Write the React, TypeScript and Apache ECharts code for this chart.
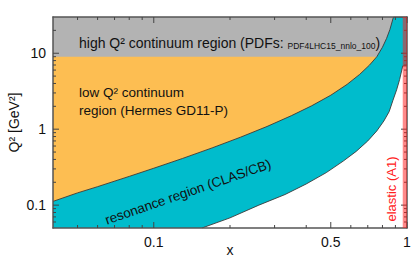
import { useEffect, useRef } from 'react';
import * as echarts from 'echarts';

// Axis ranges (x and Q^2 in their own units; both axes are logarithmic)
const X_MIN = 0.04;
const X_MAX = 1;
const Q2_MIN = 0.05;
const Q2_MAX = 30;

// Q^2 cut between low and high Q^2 continuum
const q2Cut = 9;

// Upper boundary of the resonance region
const upperX = [0.04, 0.05, 0.06, 0.08, 0.1, 0.13, 0.17, 0.22, 0.28, 0.35, 0.42, 0.5, 0.58, 0.65, 0.71, 0.76, 0.8, 0.83, 0.856, 0.884, 1.0];
const upperQ2 = [0.112, 0.145, 0.175, 0.239, 0.306, 0.412, 0.567, 0.784, 1.085, 1.51, 2.03, 2.8, 3.89, 5.26, 6.95, 9.0, 12, 15.6, 20.5, 30, 30];

// Lower boundary of the resonance region
const lowerX = [0.155, 0.2, 0.26, 0.33, 0.4, 0.48, 0.56, 0.63, 0.7, 0.76, 0.81, 0.85, 0.88, 0.91, 0.935, 0.962, 1.0];
const lowerQ2 = [0.05, 0.068, 0.1, 0.138, 0.19, 0.268, 0.38, 0.51, 0.7, 0.95, 1.28, 1.7, 2.4, 3.3, 4.5, 6.8, 6.8];

// Elastic band in x
const elasticX = [0.962, 1.0];

// Ticks
const xMajorTicks = [0.1, 0.5, 1];
const xTickLabels = ['0.1', '0.5', '1'];
const xMinorTicks = [0.05, 0.06, 0.07, 0.08, 0.09, 0.2, 0.3, 0.4, 0.6, 0.7, 0.8, 0.9];
const yMajorTicks = [0.1, 1, 10];
const yTickLabels = ['0.1', '1', '10'];
const yMinorTicks = [0.06, 0.07, 0.08, 0.09, 0.2, 0.3, 0.4, 0.5, 0.6, 0.7, 0.8, 0.9, 2, 3, 4, 5, 6, 7, 8, 9, 20];

const FONT = '"Liberation Sans", Arial, Helvetica, sans-serif';
const AXIS_COLOR = '#555555';
const TICK_COLOR = '#444444';
const MAJOR_LEN = 6;
const MINOR_LEN = 3;

// logarithmic mapping used for both axes
const L = (v: number) => Math.log10(v);

function labelFor(ticks: number[], labels: string[], v: number): string {
  const i = ticks.findIndex((t) => Math.abs(L(t) - v) < 1e-6);
  return i >= 0 ? labels[i] : '';
}

function makeXAxis(position: 'bottom' | 'top', withLabels: boolean) {
  return {
    type: 'value',
    min: L(X_MIN),
    max: L(X_MAX),
    position,
    offset: 0,
    z: 3,
    name: withLabels ? 'x' : '',
    nameLocation: 'middle',
    nameGap: 15,
    nameMoveOverlap: false,
    nameTextStyle: { fontFamily: FONT, fontSize: 14, color: '#111' },
    axisLine: { show: true, onZero: false, lineStyle: { color: AXIS_COLOR, width: 1.5 } },
    axisTick: { show: false },
    minorTick: { show: false },
    axisLabel: {
      show: withLabels,
      customValues: xMajorTicks.map(L),
      margin: 7,
      fontFamily: FONT,
      fontSize: 14,
      color: '#111',
      formatter: (v: number) => labelFor(xMajorTicks, xTickLabels, v),
    },
    splitLine: { show: false },
  };
}

function makeYAxis(position: 'left' | 'right', withLabels: boolean) {
  return {
    type: 'value',
    min: L(Q2_MIN),
    max: L(Q2_MAX),
    position,
    offset: 0,
    z: 3,
    name: withLabels ? 'Q² [GeV²]' : '',
    nameLocation: 'middle',
    nameGap: 32,
    nameMoveOverlap: false,
    nameTextStyle: { fontFamily: FONT, fontSize: 14, color: '#111' },
    axisLine: { show: true, onZero: false, lineStyle: { color: AXIS_COLOR, width: 1.5 } },
    axisTick: { show: false },
    minorTick: { show: false },
    axisLabel: {
      show: withLabels,
      customValues: yMajorTicks.map(L),
      margin: 7,
      fontFamily: FONT,
      fontSize: 14,
      color: '#111',
      formatter: (v: number) => labelFor(yMajorTicks, yTickLabels, v),
    },
    splitLine: { show: false },
  };
}

function areaSeries(name: string, data: number[][], color: string, z: number, line: boolean) {
  return {
    name,
    type: 'line',
    xAxisIndex: 0,
    yAxisIndex: 0,
    data: data.map(([x, q]) => [L(x), L(q)]),
    z,
    symbol: 'none',
    silent: true,
    smooth: false,
    lineStyle: line ? { color: '#3a3a3a', width: 0.9 } : { width: 0 },
    areaStyle: { color, opacity: 1, origin: 'start' },
  };
}

// Inside tick marks on all four sides, placed through the axes' scales
function tickSeries(kind: 'x' | 'y') {
  const major = kind === 'x' ? xMajorTicks : yMajorTicks;
  const minor = kind === 'x' ? xMinorTicks : yMinorTicks;
  const data = [
    ...major.map((t) => [L(t), MAJOR_LEN]),
    ...minor.map((t) => [L(t), MINOR_LEN]),
  ];
  return {
    type: 'custom',
    xAxisIndex: 0,
    yAxisIndex: 0,
    z: 4,
    silent: true,
    clip: false,
    encode: kind === 'x' ? { x: 0 } : { y: 0 },
    data,
    renderItem: (_params: any, api: any) => {
      const v = api.value(0);
      const len = api.value(1);
      const style = { stroke: TICK_COLOR, lineWidth: 1 };
      if (kind === 'x') {
        const b = api.coord([v, L(Q2_MIN)]);
        const t = api.coord([v, L(Q2_MAX)]);
        return {
          type: 'group',
          children: [
            { type: 'line', shape: { x1: b[0], y1: b[1], x2: b[0], y2: b[1] - len }, style },
            { type: 'line', shape: { x1: t[0], y1: t[1], x2: t[0], y2: t[1] + len }, style },
          ],
        };
      }
      const l = api.coord([L(X_MIN), v]);
      const r = api.coord([L(X_MAX), v]);
      return {
        type: 'group',
        children: [
          { type: 'line', shape: { x1: l[0], y1: l[1], x2: l[0] + len, y2: l[1] }, style },
          { type: 'line', shape: { x1: r[0], y1: r[1], x2: r[0] - len, y2: r[1] }, style },
        ],
      };
    },
  };
}

export default function App() {
  const ref = useRef<HTMLDivElement>(null);

  useEffect(() => {
    if (!ref.current) return;
    const chart = echarts.init(ref.current, undefined, { renderer: 'svg' });

    const grayData = [[X_MIN, Q2_MAX], [X_MAX, Q2_MAX]];
    const orangeData = [[X_MIN, q2Cut], [X_MAX, q2Cut]];
    const cyanData = upperX.map((x, i) => [x, upperQ2[i]]);
    const whiteData = lowerX.map((x, i) => [x, lowerQ2[i]]);
    const bandData = [[elasticX[0], Q2_MAX], [elasticX[1], Q2_MAX]];

    const option: any = {
      animation: false,
      backgroundColor: '#ffffff',
      grid: { left: 53, right: 8, top: 17, bottom: 31, containLabel: false, outerBoundsMode: 'none' },
      xAxis: [makeXAxis('bottom', true), makeXAxis('top', false)],
      yAxis: [makeYAxis('left', true), makeYAxis('right', false)],
      series: [
        areaSeries('high Q2 continuum', grayData, '#b3b3b3', 1, false),
        areaSeries('low Q2 continuum', orangeData, '#fdbe52', 1, false),
        areaSeries('resonance', cyanData, '#00bccc', 1, true),
        areaSeries('below threshold', whiteData, '#ffffff', 1, true),
        tickSeries('x'),
        tickSeries('y'),
        areaSeries('elastic', bandData, 'rgba(255,30,30,0.52)', 6, false),
      ],
      graphic: [
        {
          type: 'text',
          x: 79,
          y: 42,
          z: 10,
          style: {
            text: '{a|high Q² continuum region (PDFs: }{b|PDF4LHC15_nnlo_100}{a|)}',
            rich: {
              a: { fontFamily: FONT, fontSize: 14, fill: '#111', verticalAlign: 'bottom', lineHeight: 16 },
              b: { fontFamily: FONT, fontSize: 8.5, fill: '#111', verticalAlign: 'bottom', lineHeight: 16 },
            },
            align: 'left',
            verticalAlign: 'middle',
          },
        },
        {
          type: 'text',
          x: 79,
          y: 92,
          z: 10,
          style: { text: 'low Q² continuum', fill: '#111', font: `13.5px ${FONT}`, align: 'left', verticalAlign: 'middle' },
        },
        {
          type: 'text',
          x: 79,
          y: 110,
          z: 10,
          style: { text: 'region (Hermes GD11-P)', fill: '#111', font: `13.5px ${FONT}`, align: 'left', verticalAlign: 'middle' },
        },
        {
          type: 'text',
          x: 188,
          y: 192,
          rotation: 0.332,
          z: 10,
          style: { text: 'resonance region (CLAS/CB)', fill: '#111', font: `13.5px ${FONT}`, align: 'center', verticalAlign: 'middle' },
        },
        {
          type: 'text',
          x: 391,
          y: 189,
          rotation: Math.PI / 2,
          z: 10,
          style: { text: 'elastic (A1)', fill: '#ff2020', font: `13px ${FONT}`, align: 'center', verticalAlign: 'middle' },
        },
      ],
    };

    chart.setOption(option);
    return () => chart.dispose();
  }, []);

  return <div ref={ref} style={{ position: 'absolute', left: 0, top: 0, width: 415, height: 259 }} />;
}
